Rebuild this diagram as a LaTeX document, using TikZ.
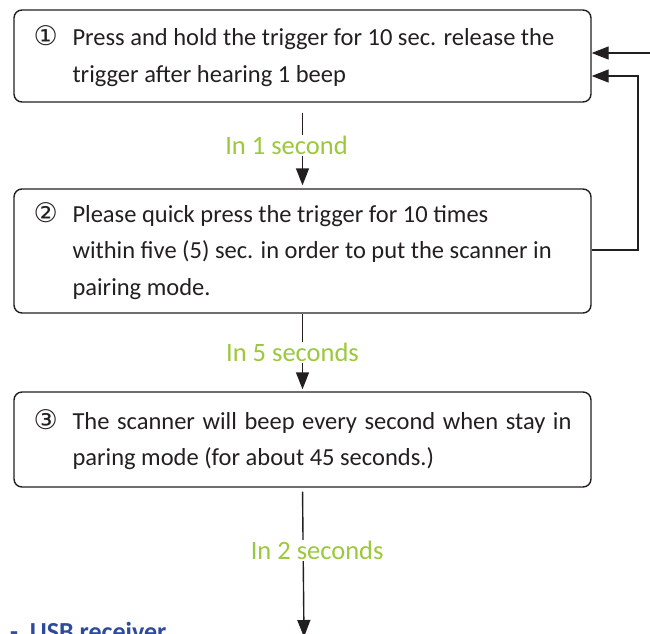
\documentclass[tikz,border=0pt]{standalone}
\usepackage{fontspec}
\setmainfont{Carlito}
\newfontfamily\circfont{DejaVu Sans}
\usetikzlibrary{arrows.meta}
\definecolor{ink}{HTML}{231F20}
\definecolor{lblgreen}{HTML}{9BC83C}
\definecolor{usbblue}{HTML}{2E4A9B}
\tikzset{
  stepbox/.style={draw=ink, line width=1.4pt, rounded corners=8pt, minimum width=577pt,
    inner sep=0pt, text=ink, font=\fontsize{24.5}{36.5}\selectfont},
  flow/.style={draw=ink, line width=1.4pt, -{Triangle[length=17pt,width=13pt]}},
  lbl/.style={fill=white, inner sep=1pt, text=lblgreen, font=\fontsize{26.5}{28}\selectfont},
}
\newcommand{\stepnum}[1]{\makebox[39pt][l]{\circfont\fontsize{27}{28}\selectfont #1}}
\begin{document}
\begin{tikzpicture}[x=1pt,y=-1pt]
    \clip (0,0) rectangle (650,633);
    \useasboundingbox (0,0) rectangle (650,633);

    % Draw boxes
    \node[stepbox, minimum height=92pt] (b1) at (302.5,56) {%
      \stepnum{①}\parbox[t]{499pt}{Press and hold the trigger for 10 sec. release the\\
      trigger after hearing 1 beep}};
    \node[stepbox, minimum height=124pt] (b2) at (302.5,251) {%
      \stepnum{②}\parbox[t]{499pt}{Please quick press the trigger for 10 times\\
      within five (5) sec. in order to put the scanner in\\
      pairing mode.}};
    \node[stepbox, minimum height=95pt] (b3) at (302.5,439.5) {%
      \stepnum{③}\parbox[t]{499pt}{\makebox[499pt][s]{The scanner will beep every second when stay in}\\
      paring mode (for about 45 seconds.)}};

    \coordinate (feed) at (652,53);
    \coordinate (loop) at (638,250);
    \coordinate (down) at (304,637);

    % Draw edges
    \draw[flow, shorten <=10pt, shorten >=3pt] (b1.south) -- node[lbl, xshift=-16pt, yshift=-4pt, pos=0.45] {In 1 second} (b2.north);
    \draw[flow, shorten >=2pt] (b2.south) -- node[lbl, xshift=-10pt] {In 5 seconds} (b3.north);
    \draw[flow, shorten <=4pt] (b3.south) -- node[lbl, xshift=14pt, pos=0.42] {In 2 seconds} (down);
    \draw[flow] (feed) -- (feed -| b1.east);
    \draw[flow] (loop -| b2.east) -- (loop) -- (loop |- 0,76) -- (b1.east |- 0,76);

    % Next section heading
    \node[anchor=base west, inner sep=0pt, text=usbblue, font=\fontsize{26}{28}\selectfont\bfseries] (usb) at (10,640) {-~~USB receiver};
\end{tikzpicture}
\end{document}
